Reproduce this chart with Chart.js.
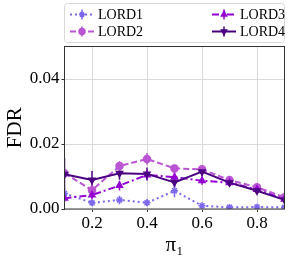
<!DOCTYPE html>
<html>
<head>
<meta charset="utf-8">
<script src="https://cdn.jsdelivr.net/npm/chart.js@4"></script>
<style>
  html, body { margin: 0; padding: 0; background: #fff; }
  #wrap { position: relative; width: 291px; height: 260px; }
</style>
</head>
<body>
<div id="wrap"><canvas id="c"></canvas></div>
<script>
// values
const pi1 = [0.1, 0.2, 0.3, 0.4, 0.5, 0.6, 0.7, 0.8, 0.9];
const xTicks = [0.2, 0.4, 0.6, 0.8];
const yTicks = [0.0, 0.02, 0.04];

const lord1 = [0.0048, 0.0019, 0.0028, 0.0019, 0.0056, 0.0010, 0.0005, 0.0006, 0.0005];
const lord1Err = [0.0017, 0.0010, 0.0013, 0.0010, 0.0020, 0.0006, 0.0004, 0.0004, 0.0004];
const lord2 = [0.0110, 0.0058, 0.0132, 0.0154, 0.0125, 0.0122, 0.0089, 0.0067, 0.0036];
const lord2Err = [0.0015, 0.0015, 0.0015, 0.0018, 0.0012, 0.0010, 0.0008, 0.0008, 0.0008];
const lord3 = [0.0033, 0.0043, 0.0072, 0.0105, 0.0098, 0.0087, 0.0081, 0.0060, 0.0030];
const lord3Err = [0.0012, 0.0012, 0.0015, 0.0015, 0.0020, 0.0012, 0.0010, 0.0008, 0.0008];
const lord4 = [0.0107, 0.0089, 0.0110, 0.0108, 0.0082, 0.0115, 0.0081, 0.0056, 0.0028];
const lord4Err = [0.0050, 0.0028, 0.0020, 0.0020, 0.0018, 0.0015, 0.0010, 0.0010, 0.0010];

const names = ["LORD1", "LORD2", "LORD3", "LORD4"];
const colors = ["#7b68ee", "#ba55d3", "#9400d3", "#4b0082"];
const dashes = [[2, 3], [6, 3], [7, 3, 2, 3], []];
const markers = ["star", "circle", "triangle", "triangle"];
const rotations = [0, 0, 0, 180];

const series = [lord1, lord2, lord3, lord4];
const errors = [lord1Err, lord2Err, lord3Err, lord4Err];

const serif = "'Liberation Serif', 'DejaVu Serif', serif";

const datasets = series.map((vals, i) => ({
  label: names[i],
  data: pi1.map((x, j) => ({ x, y: vals[j] })),
  errs: errors[i],
  borderColor: colors[i],
  backgroundColor: colors[i],
  borderWidth: 2,
  borderDash: dashes[i],
  pointStyle: markers[i],
  pointRotation: rotations[i],
  pointRadius: 3.5,
  pointBorderWidth: 1.5,
  tension: 0,
  order: 3 - i,
}));

// vertical error bars through each point, using the scales
const errorBars = {
  id: "errorBars",
  beforeDatasetsDraw(chart) {
    const { ctx, chartArea: a, scales } = chart;
    ctx.save();
    ctx.beginPath();
    ctx.rect(a.left, a.top, a.right - a.left, a.bottom - a.top);
    ctx.clip();
    for (let i = chart.data.datasets.length - 1; i >= 0; i--) {
      const ds = chart.data.datasets[i];
      ctx.strokeStyle = ds.borderColor;
      ctx.lineWidth = 1.5;
      ds.data.forEach((p, j) => {
        const px = scales.x.getPixelForValue(p.x);
        const y0 = scales.y.getPixelForValue(p.y - ds.errs[j]);
        const y1 = scales.y.getPixelForValue(p.y + ds.errs[j]);
        ctx.beginPath();
        ctx.moveTo(px, y0);
        ctx.lineTo(px, y1);
        ctx.stroke();
      });
    }
    ctx.restore();
  },
};

// axes frame + legend box in the top strip
const frameAndLegend = {
  id: "frameAndLegend",
  afterDraw(chart) {
    const { ctx, chartArea: a } = chart;
    ctx.save();
    ctx.strokeStyle = "#333";
    ctx.lineWidth = 1;
    ctx.strokeRect(a.left, a.top, a.right - a.left, a.bottom - a.top);

    // legend
    const bx = 64.5, by = 3.5, bw = 220, bh = 39;
    ctx.fillStyle = "rgba(255,255,255,0.9)";
    ctx.strokeStyle = "#d8d8d8";
    ctx.beginPath();
    ctx.roundRect(bx, by, bw, bh, 3);
    ctx.fill();
    ctx.stroke();

    const slots = [
      { x: 70, y: 14.5 }, { x: 70, y: 31.5 },
      { x: 212, y: 14.5 }, { x: 212, y: 31.5 },
    ];
    chart.data.datasets.forEach((ds, i) => {
      const s = slots[i];
      ctx.strokeStyle = ds.borderColor;
      ctx.lineWidth = 2;
      ctx.setLineDash(ds.borderDash);
      ctx.beginPath();
      ctx.moveTo(s.x, s.y);
      ctx.lineTo(s.x + 24, s.y);
      ctx.stroke();
      ctx.setLineDash([]);
      ctx.lineWidth = 1.5;
      ctx.beginPath();
      ctx.moveTo(s.x + 12, s.y - 5);
      ctx.lineTo(s.x + 12, s.y + 5);
      ctx.stroke();
      ctx.fillStyle = ds.backgroundColor;
      Chart.helpers.drawPoint(ctx, {
        pointStyle: ds.pointStyle, rotation: ds.pointRotation,
        radius: 3, borderWidth: 1.5,
      }, s.x + 12, s.y);
      ctx.fillStyle = "#000";
      ctx.font = "14px " + serif;
      ctx.textBaseline = "middle";
      ctx.textAlign = "left";
      ctx.fillText(ds.label, s.x + 28, s.y + 1);
    });
    ctx.restore();
  },
};

new Chart(document.getElementById("c"), {
  type: "line",
  data: { datasets },
  options: {
    responsive: true,
    maintainAspectRatio: false,
    animation: false,
    layout: { padding: { top: 46.5, right: 6.5, left: 0, bottom: 0 } },
    plugins: { legend: { display: false }, tooltip: { enabled: false } },
    scales: {
      x: {
        type: "linear",
        min: 0.1,
        max: 0.9,
        afterBuildTicks: (s) => { s.ticks = xTicks.map((v) => ({ value: v })); },
        afterFit: (s) => { s.height = 51; },
        ticks: {
          color: "#000",
          font: { family: serif, size: 17 },
          padding: 1,
          maxRotation: 0,
          callback: (v) => v.toFixed(1),
        },
        grid: { color: "#d9d9d9", tickColor: "#333", tickLength: 3 },
        border: { display: false },
        title: {
          display: true,
          text: "π₁",
          color: "#000",
          font: { family: serif, size: 21 },
          padding: { top: 0, bottom: 2 },
        },
      },
      y: {
        min: 0,
        max: 0.05,
        afterBuildTicks: (s) => { s.ticks = yTicks.map((v) => ({ value: v })); },
        afterFit: (s) => { s.width = 64.5; },
        ticks: {
          color: "#000",
          font: { family: serif, size: 17 },
          padding: 2,
          callback: (v) => v.toFixed(2),
        },
        grid: { color: "#d9d9d9", tickColor: "#333", tickLength: 3 },
        border: { display: false },
        title: {
          display: true,
          text: "FDR",
          color: "#000",
          font: { family: serif, size: 21 },
          padding: { top: 3, bottom: 0 },
        },
      },
    },
  },
  plugins: [errorBars, frameAndLegend],
});
</script>
</body>
</html>
